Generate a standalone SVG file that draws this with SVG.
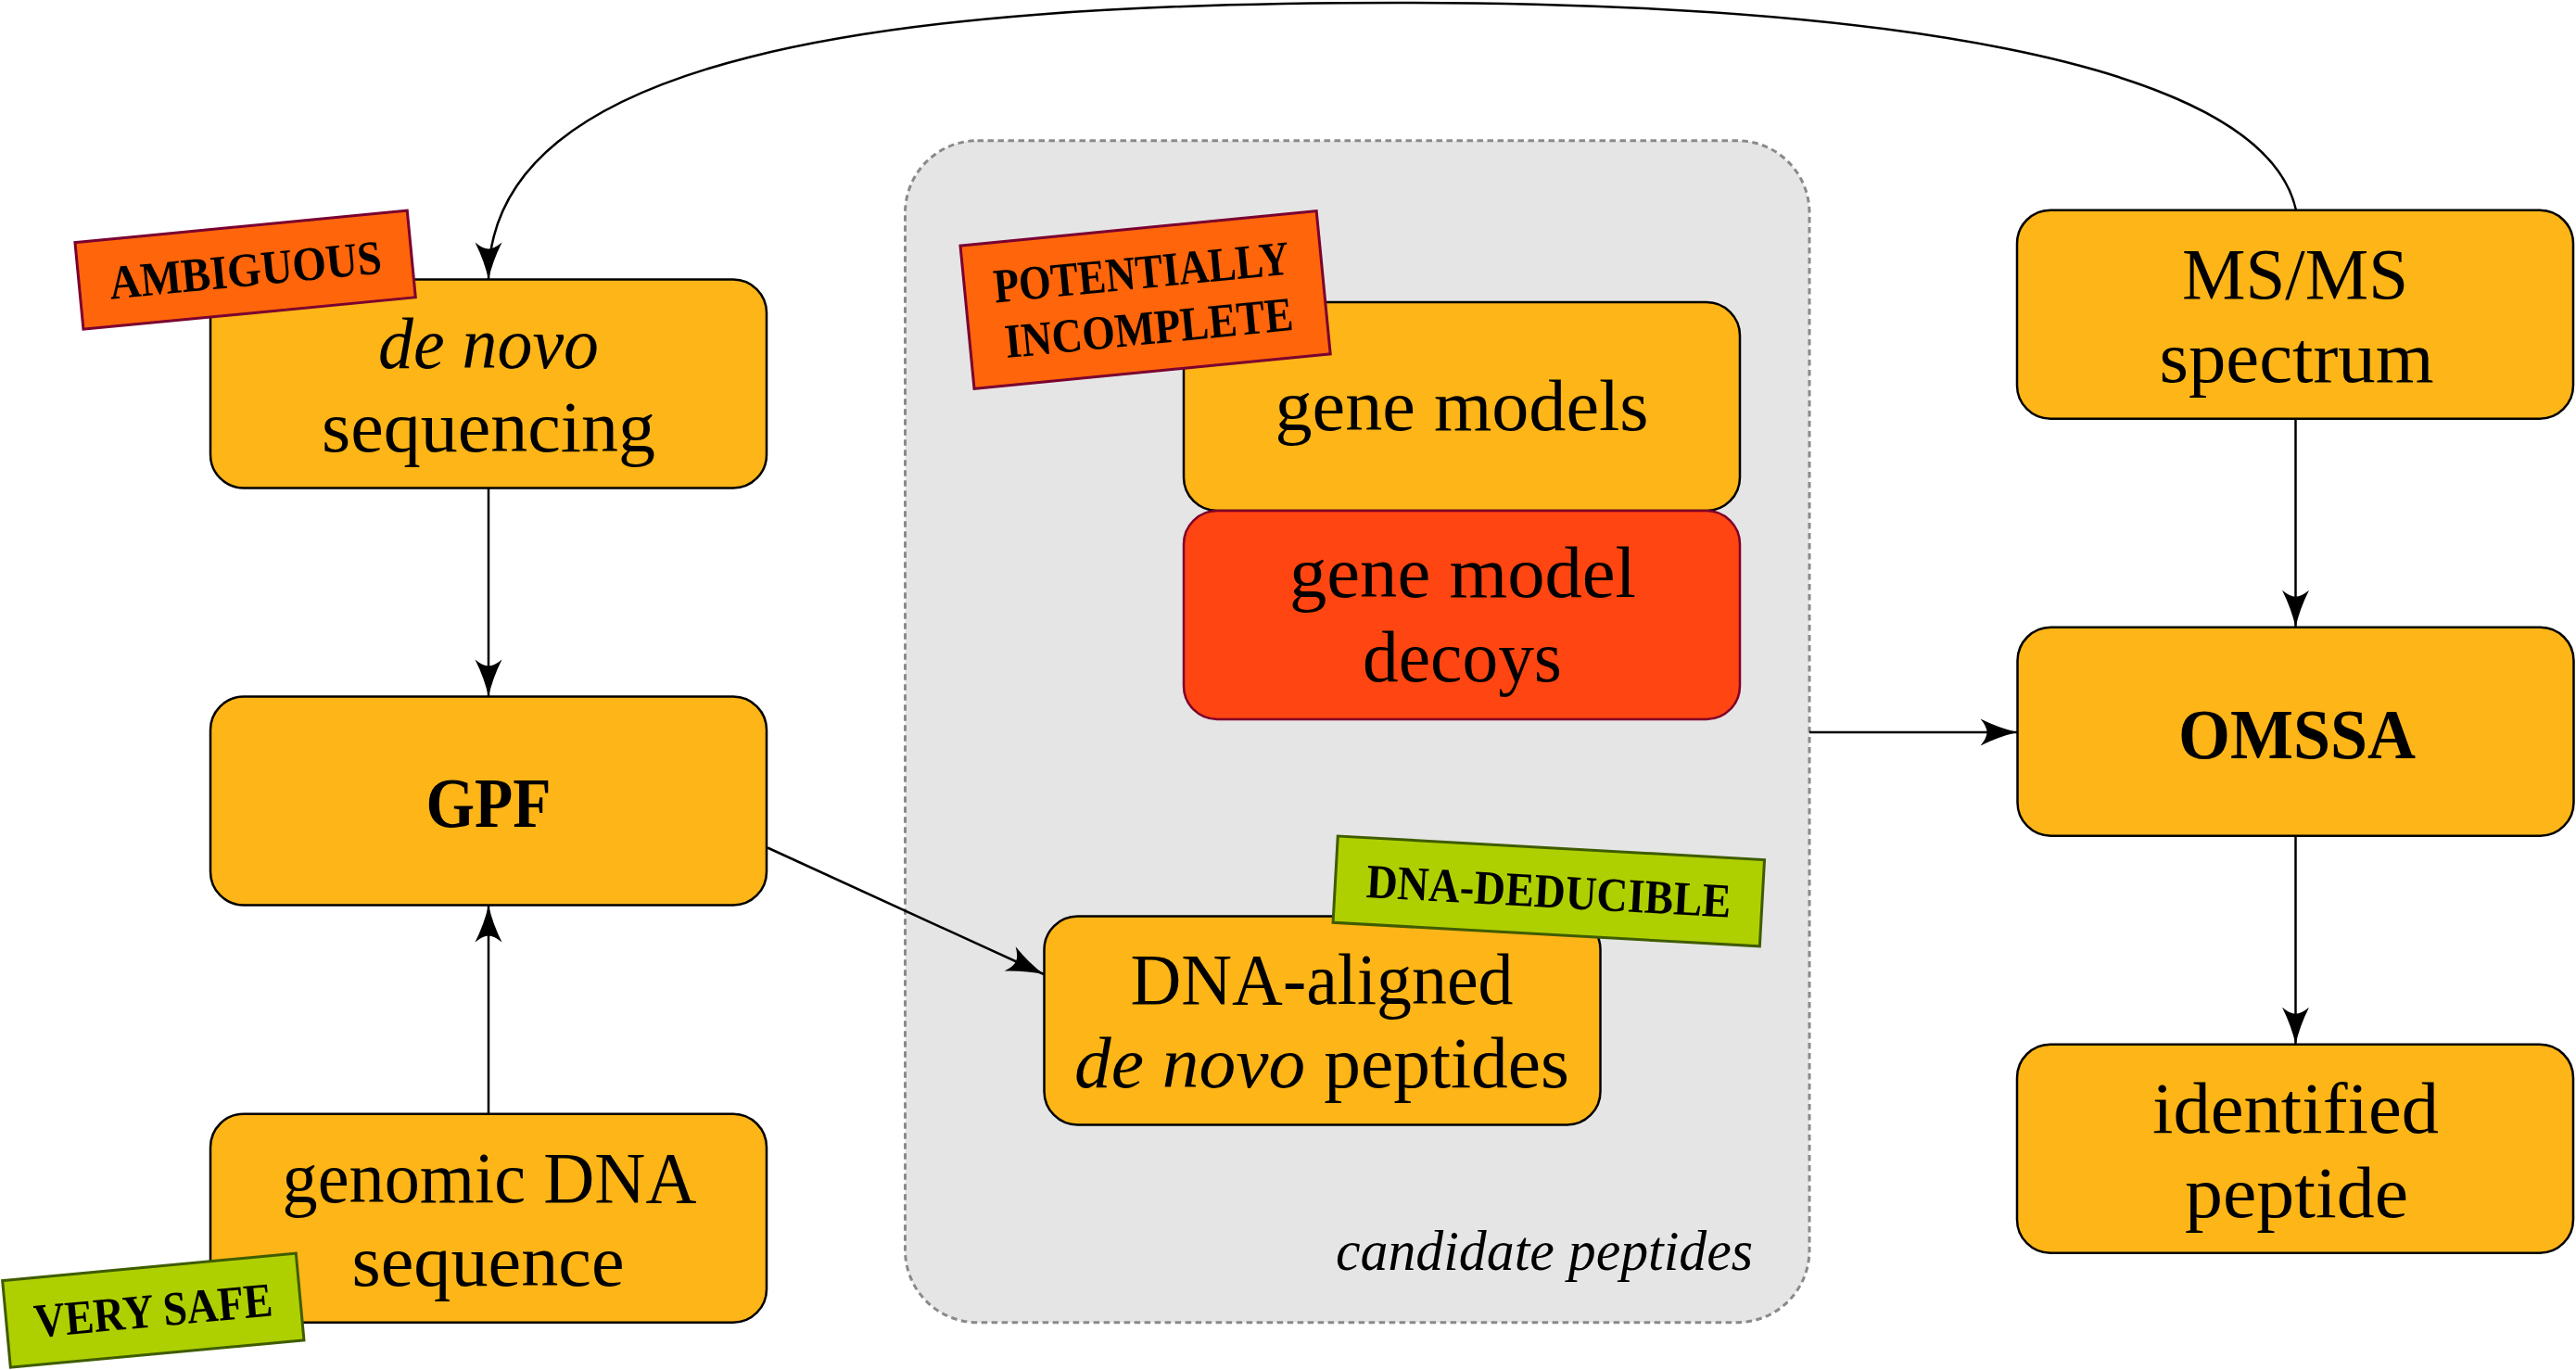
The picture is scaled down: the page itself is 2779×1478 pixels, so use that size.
<svg xmlns="http://www.w3.org/2000/svg" width="2779" height="1478" viewBox="0 0 2779 1478">
<style>
.bg{fill:#ffffff}
.grp{fill:#e5e5e5;stroke:#8a8a8a;stroke-width:3;stroke-dasharray:6.5 4.5}
.node{fill:#fdb517;stroke:#000;stroke-width:2.5}
.decoy{fill:#ff4511;stroke:#80002a;stroke-width:2.5}
.tagR{fill:#ff650a;stroke:#7a0030;stroke-width:3}
.tagG{fill:#aed000;stroke:#3f5c00;stroke-width:3}
.t{font-family:"Liberation Serif","DejaVu Serif",serif;font-size:78px;fill:#000;text-anchor:middle}
.b{font-weight:bold;font-size:76px}
.i{font-style:italic}
.tg{font-family:"Liberation Serif","DejaVu Serif",serif;font-size:52px;font-weight:bold;fill:#000;text-anchor:middle}
.lbl{font-family:"Liberation Serif","DejaVu Serif",serif;font-size:62px;font-style:italic;fill:#000}
.edge{fill:none;stroke:#000;stroke-width:2.5;marker-end:url(#arr)}
</style>
<defs>
<marker id="arr" markerUnits="userSpaceOnUse" markerWidth="50" markerHeight="40" viewBox="-45 -20 50 40" refX="0" refY="0" orient="auto" overflow="visible">
<path d="M0,0 Q-20,-4.5 -40,-14.5 Q-33,-6 -33,0 Q-33,6 -40,14.5 Q-20,4.5 0,0Z" fill="#000"/>
</marker>
</defs>
<rect class="bg" x="0" y="0" width="2779" height="1478"/>

<g id="candidate-peptides">
<rect class="grp" x="976.5" y="151.7" width="975.5" height="1275" rx="78" ry="78"/>
<text class="lbl" x="1441" y="1370" textLength="450" lengthAdjust="spacingAndGlyphs">candidate peptides</text>
</g>

<g id="connectors">
<path class="edge" d="M527,526.7 L527,751.5"/>
<path class="edge" d="M527,1201.7 L527,976.5"/>
<path class="edge" d="M828,914.5 L1126,1051"/>
<path class="edge" d="M1952,790 L2176.5,790"/>
<path class="edge" d="M2476.5,451.7 L2476.5,676.7"/>
<path class="edge" d="M2476.5,901.7 L2476.5,1126.7"/>
<path class="edge" d="M2477,226.7 C2440,60 2000,3 1508,3 C950,3 527,60 527,301.5"/>
</g>

<g id="de-novo-sequencing">
<rect class="node" x="227" y="301.5" width="600" height="225" rx="36" ry="36"/>
<text class="t i" x="527" y="396.7" textLength="238" lengthAdjust="spacingAndGlyphs">de novo</text>
<text class="t" x="527" y="486.7" textLength="360" lengthAdjust="spacingAndGlyphs">sequencing</text>
</g>
<g id="tag-ambiguous" transform="translate(264.6,291.2) rotate(-5.5)">
<rect class="tagR" x="-180" y="-47" width="360" height="94"/>
<text class="tg" x="0" y="17.5" textLength="295" lengthAdjust="spacingAndGlyphs">AMBIGUOUS</text>
</g>

<g id="gpf">
<rect class="node" x="227" y="751.5" width="600" height="225" rx="36" ry="36"/>
<text class="t b" x="527" y="891.7" textLength="135" lengthAdjust="spacingAndGlyphs">GPF</text>
</g>

<g id="genomic-dna">
<rect class="node" x="227" y="1201.7" width="600" height="225" rx="36" ry="36"/>
<text class="t" x="528" y="1296.7" textLength="447" lengthAdjust="spacingAndGlyphs">genomic DNA</text>
<text class="t" x="526.5" y="1386.7" textLength="294" lengthAdjust="spacingAndGlyphs">sequence</text>
</g>
<g id="tag-very-safe" transform="translate(165.3,1413.7) rotate(-5.3)">
<rect class="tagR tagG" x="-159" y="-47" width="318" height="94"/>
<text class="tg" x="0" y="17.5" textLength="258" lengthAdjust="spacingAndGlyphs">VERY SAFE</text>
</g>

<g id="gene-models">
<rect class="node" x="1277" y="326" width="600" height="225" rx="36" ry="36"/>
<text class="t" x="1577" y="464.4" textLength="403" lengthAdjust="spacingAndGlyphs">gene models</text>
</g>
<g id="gene-model-decoys">
<rect class="decoy" x="1277" y="551" width="600" height="225" rx="36" ry="36"/>
<text class="t" x="1578" y="644" textLength="374" lengthAdjust="spacingAndGlyphs">gene model</text>
<text class="t" x="1577.5" y="734.5" textLength="215" lengthAdjust="spacingAndGlyphs">decoys</text>
</g>
<g id="tag-potentially-incomplete" transform="translate(1235.6,323.5) rotate(-5.56)">
<rect class="tagR" x="-193" y="-77.5" width="386" height="155"/>
<text class="tg" x="-1.4" y="-12.7" textLength="320" lengthAdjust="spacingAndGlyphs">POTENTIALLY</text>
<text class="tg" x="0.8" y="47.8" textLength="312" lengthAdjust="spacingAndGlyphs">INCOMPLETE</text>
</g>

<g id="dna-aligned">
<rect class="node" x="1126.5" y="988.5" width="600" height="225" rx="36" ry="36"/>
<text class="t" x="1426" y="1082.7" textLength="413" lengthAdjust="spacingAndGlyphs">DNA-aligned</text>
<text class="t" x="1426" y="1173" textLength="534" lengthAdjust="spacingAndGlyphs"><tspan class="i">de novo</tspan> peptides</text>
</g>
<g id="tag-dna-deducible" transform="translate(1670.8,961.4) rotate(3.18)">
<rect class="tagG" x="-230.5" y="-46.7" width="461" height="93.4"/>
<text class="tg" x="0" y="17.5" textLength="394" lengthAdjust="spacingAndGlyphs">DNA-DEDUCIBLE</text>
</g>

<g id="ms-ms-spectrum">
<rect class="node" x="2176" y="226.7" width="600" height="225" rx="36" ry="36"/>
<text class="t" x="2476" y="321.7" textLength="244" lengthAdjust="spacingAndGlyphs">MS/MS</text>
<text class="t" x="2477.5" y="411.7" textLength="296" lengthAdjust="spacingAndGlyphs">spectrum</text>
</g>

<g id="omssa">
<rect class="node" x="2176.5" y="676.7" width="600" height="225" rx="36" ry="36"/>
<text class="t b" x="2478" y="817.5" textLength="256" lengthAdjust="spacingAndGlyphs">OMSSA</text>
</g>

<g id="identified-peptide">
<rect class="node" x="2176" y="1126.7" width="600" height="225" rx="36" ry="36"/>
<text class="t" x="2476.5" y="1221.7" textLength="309" lengthAdjust="spacingAndGlyphs">identified</text>
<text class="t" x="2477.5" y="1312.7" textLength="241" lengthAdjust="spacingAndGlyphs">peptide</text>
</g>
</svg>
